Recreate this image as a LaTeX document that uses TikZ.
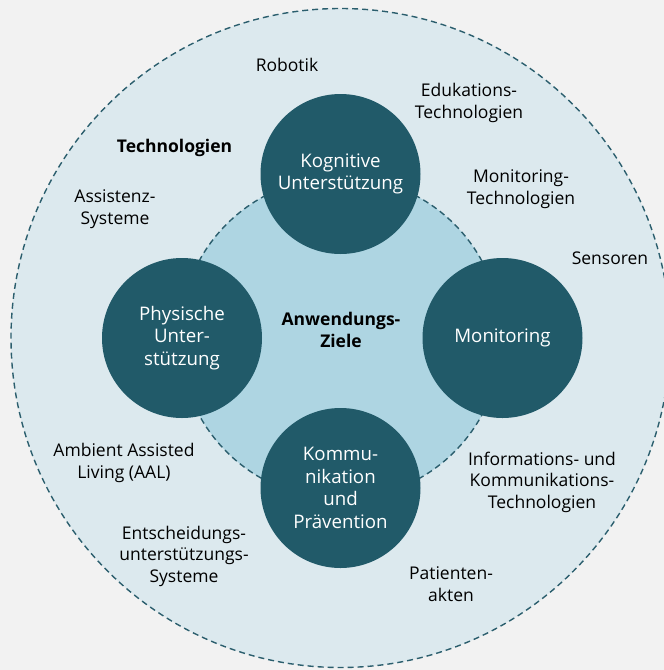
\documentclass[tikz,border=0pt]{standalone}
\usepackage{fontspec}
\setmainfont{Open Sans}
\definecolor{bgc}{HTML}{F2F2F2}
\definecolor{outerc}{HTML}{DCE9EE}
\definecolor{innerc}{HTML}{AED5E2}
\definecolor{darkc}{HTML}{215A69}
\definecolor{linec}{HTML}{2B5E6D}
\begin{document}
\begin{tikzpicture}[x=1pt,y=-1pt,
  ring/.style={circle, draw=linec, line width=1.4pt, dash pattern=on 6pt off 4pt, inner sep=0pt},
  goal/.style={circle, fill=darkc, minimum size=160pt, inner sep=0pt, text=white, align=center,
    font=\fontsize{18.7}{22.5}\selectfont},
  lab/.style={align=center, text=black, font=\fontsize{17.5}{21.5}\selectfont},
  blab/.style={lab, font=\fontsize{17.5}{21.5}\selectfont\bfseries}]
\useasboundingbox (0,0) rectangle (664,670);
\clip (0,0) rectangle (664,670);
\fill[bgc] (0,0) rectangle (664,670);
\node[ring, fill=outerc, minimum size=659pt] (outer) at (340.5,338) {};
\node[ring, fill=innerc, minimum size=322pt] (inner) at (340.5,338) {};
\node[goal] (kog) at (340.5,174) {Kognitive\\Unterstützung};
\node[goal] (phy) at (182,338) {Physische\\Unter-\\stützung};
\node[goal] (mon) at (502.5,338) {Monitoring};
\node[goal] (kom) at (340.5,488) {Kommu-\\nikation\\und\\Prävention};
\node[blab] (anw) at (341,330) {Anwendungs-\\Ziele};
\node[blab] (tech) at (174.5,148) {Technologien};
\node[lab] (rob) at (287,65) {Robotik};
\node[lab] (edu) at (469,103) {Edukations-\\Technologien};
\node[lab] (mont) at (521,189) {Monitoring-\\Technologien};
\node[lab] (ass) at (115,209) {Assistenz-\\Systeme};
\node[lab] (sen) at (610,258) {Sensoren};
\node[lab] (aal) at (124,463) {Ambient Assisted\\Living (AAL)};
\node[lab] (ikt) at (542,482) {Informations- und\\Kommunikations-\\Technologien};
\node[lab] (ent) at (184,556) {Entscheidungs-\\unterstützungs-\\Systeme};
\node[lab] (pat) at (451,584) {Patienten-\\akten};
\end{tikzpicture}
\end{document}
